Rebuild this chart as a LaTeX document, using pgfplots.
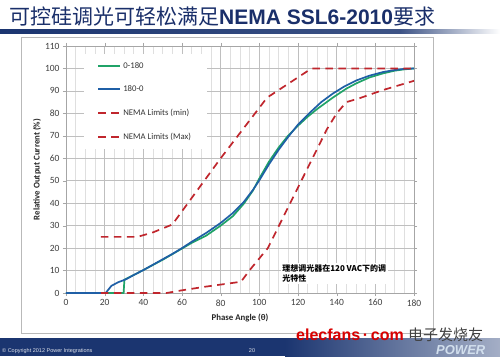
\documentclass[border=0pt]{standalone}
\usepackage{fontspec}
\setmainfont{Carlito}
\newfontfamily\cjk{Noto Sans CJK SC}
\newfontfamily\arial{Liberation Sans}
\usepackage{pgfplots}
\pgfplotsset{compat=1.18}
\definecolor{navy}{HTML}{1B3570}
\definecolor{titleblue}{HTML}{1A2F6A}
\definecolor{cgreen}{HTML}{20A368}
\definecolor{cblue}{HTML}{1F5FA6}
\definecolor{cred}{HTML}{C0262D}
\definecolor{ticktext}{HTML}{404040}
\begin{document}
\begin{tikzpicture}[x=1pt,y=1pt]
\path[use as bounding box] (0,0) rectangle (500,356);
\fill[white] (0,0) rectangle (500,356);
% title
\node[anchor=west, text=titleblue, inner sep=0] at (9,339)
  {\cjk\fontsize{21}{21}\selectfont 可控硅调光可轻松满足{\arial\bfseries NEMA SSL6-2010}要求};
\shade[left color=navy, right color=navy!85] (0,322) rectangle (400,326);
\shade[left color=navy!85, right color=white] (400,322) rectangle (500,326);
% chart frame
\draw[gray!55, line width=0.8pt] (21,23) rectangle (433,319);
% bottom band
\fill[navy] (0,0) rectangle (500,18);
\shade[left color=navy, right color=navy!40] (285,0) rectangle (500,18);
\node[anchor=west, text=white!85!navy, inner sep=0, font=\arial\fontsize{5.5}{6}\selectfont] at (2,5) {© Copyright 2012 Power Integrations};
\node[text=white!85!navy, inner sep=0, font=\arial\fontsize{5.5}{6}\selectfont] at (252,5) {20};
\node[anchor=west, text=white!80!cblue, inner sep=0, font=\arial\bfseries\itshape\fontsize{13}{13}\selectfont] at (436,6) {POWER};
\node[anchor=west, text=red!85!black, inner sep=0, font=\arial\bfseries\fontsize{16}{16}\selectfont] at (296,21) {elecfans\,·\,com};
\node[anchor=west, text=black!75, inner sep=0, font=\cjk\fontsize{15}{15}\selectfont] at (408,21) {电子发烧友};
\begin{axis}[
  at={(66pt,63pt)}, anchor=south west,
  scale only axis, width=348pt, height=247pt,
  xmin=0, xmax=180, ymin=0, ymax=110,
  xtick={0,20,...,180}, ytick={0,10,...,110},
  minor x tick num=3,
  grid=both,
  major grid style={draw=gray!50, line width=0.6pt},
  minor grid style={draw=gray!25, line width=0.5pt},
  axis line style={draw=gray!70},
  tick align=outside, major tick length=3pt, minor tick length=0pt,
  tick style={draw=gray!70},
  /pgf/number format/assume math mode=true,
  ticklabel style={font=\fontsize{9.5}{10}\selectfont, text=ticktext},
  xlabel={Phase Angle (θ)}, ylabel={Relative Output Current (\%)},
  label style={font=\bfseries\fontsize{8.8}{9}\selectfont, text=black!85},
  xlabel style={at={(axis description cs:0.5,-0.101)}, anchor=center},
  ylabel style={at={(axis description cs:-0.083,0.5)}, anchor=center},
  legend style={at={(axis description cs:0.05,0.968)}, anchor=north west,
    draw=none, fill=white, font=\fontsize{8.7}{9}\selectfont, text=black!80,
    row sep=12pt, inner xsep=14pt, inner ysep=6pt},
  legend cell align=left,
  legend image code/.code={\draw[#1] (0pt,0pt) -- (22pt,0pt);},
  every axis plot/.append style={line width=1.7pt},
]
\addplot[cgreen] coordinates {(0,0) (29.8,0) (30.2,5.9) (35,8) (40,10.2) (50,14.8) (55,17.3) (60,19.8) (65,22.3) (72.6,25.6) (80,30) (86.3,34.2) (92,39.8) (96.6,45.5) (100,51) (105,58.5) (110,64.8) (115,70.2) (120,74.5) (125,78.5) (130,82) (138,87) (145,91) (150,93.3) (157,96) (164,97.8) (170,99) (175,99.6) (180,100)};
\addlegendentry{0-180}
\addplot[cblue] coordinates {(0,0) (20.5,0) (23.5,3.2) (27,4.8) (31,6.1) (35,8) (40,10.2) (50,15) (55,17.4) (60,20) (65,22.8) (72.6,26.8) (80,31.2) (86.3,35.6) (92,40.6) (96.6,45.8) (100,50.2) (105,57.3) (110,63.8) (115,69.6) (120,75) (126,80.2) (132,85) (138,88.8) (144,92) (150,94.6) (157,96.8) (164,98.4) (170,99.3) (175,99.8) (180,100)};
\addlegendentry{180-0}
\addplot[cred, dash pattern=on 7.5pt off 5.5pt] coordinates {(18,0) (52,0) (60,1.2) (72,2.8) (90.5,5) (95,10.2) (104.4,20) (135,73) (140,80) (145,85) (152,86.8) (164,90.4) (180,94.5)};
\addlegendentry{NEMA Limits (min)}
\addplot[cred, dash pattern=on 7.5pt off 5.5pt] coordinates {(18,25) (37,25) (45,27) (55,30.5) (80,60) (104,87) (127,100) (180,100)};
\addlegendentry{NEMA Limits (Max)}
\node[anchor=north west, fill=white, inner sep=1.5pt, align=left, font=\cjk\bfseries\fontsize{8}{10.5}\selectfont] at (axis cs:111,13.5) {理想调光器在120 VAC下的调\\光特性};
\end{axis}
\end{tikzpicture}
\end{document}
